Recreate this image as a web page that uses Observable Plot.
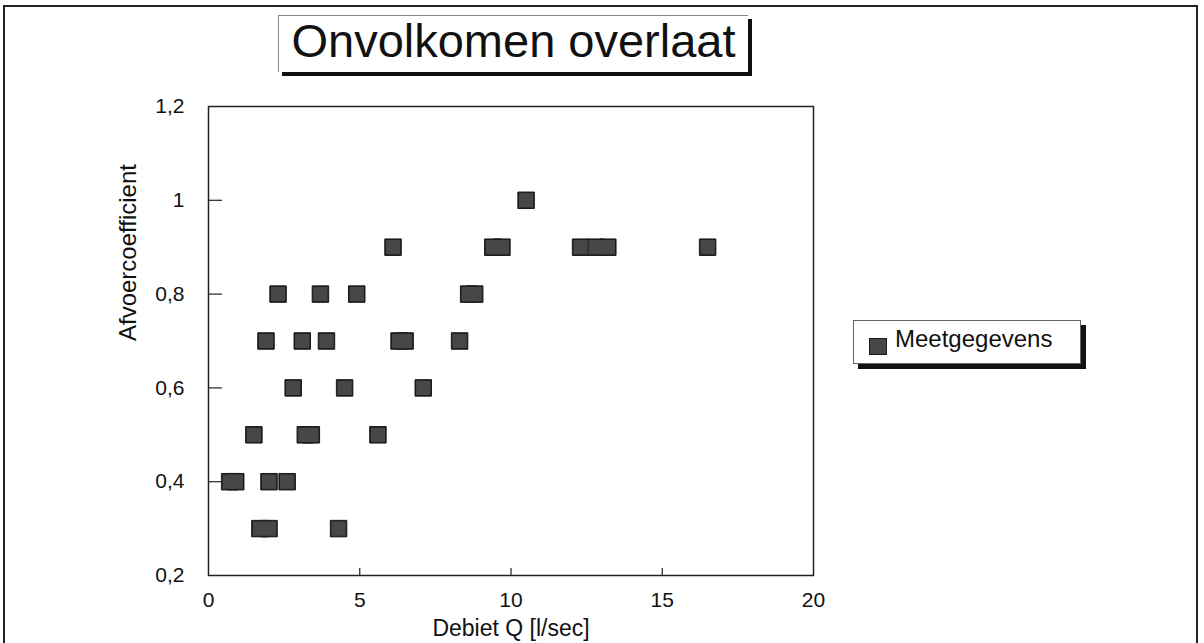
<!DOCTYPE html>
<html>
<head>
<meta charset="utf-8">
<script src="https://cdn.jsdelivr.net/npm/d3@7"></script>
<script src="https://cdn.jsdelivr.net/npm/@observablehq/plot@0.6"></script>
<style>
  html, body { margin: 0; padding: 0; background: #fff; }
  #wrap { position: relative; width: 1204px; height: 643px; overflow: hidden; font-family: "Liberation Sans", Arial, sans-serif; }
  #outer { position: absolute; left: 3px; top: 5px; width: 1195px; height: 660px; border: 2px solid #222; box-sizing: border-box; }
  #title { position: absolute; left: 278px; top: 15px; width: 470px; height: 57px; background: #fff;
           border-top: 1px solid #888; border-left: 1px solid #888; box-shadow: 4px 4px 0 #111;
           font-size: 47px; line-height: 50px; text-align: center; color: #111; box-sizing: border-box; }
  #legend { position: absolute; left: 853px; top: 320px; width: 228px; height: 44px; background: #fff;
            border: 1px solid #666; box-shadow: 5px 5px 0 #111; box-sizing: border-box;
            font-size: 24px; color: #111; }
  #legend .sw { position: absolute; left: 15px; top: 17px; width: 16px; height: 15px; background: #464646; border: 1px solid #1a1a1a; }
  #legend .lb { position: absolute; left: 41px; top: 4px; line-height: 28px; }
  #chart { position: absolute; left: 0; top: 0; }
</style>
</head>
<body>
<div id="wrap">
  <div id="outer"></div>
  <div id="chart"></div>
  <div id="title">Onvolkomen overlaat</div>
  <div id="legend"><div class="sw"></div><div class="lb">Meetgegevens</div></div>
</div>
<script>
const titleText = "Onvolkomen overlaat";
const seriesName = "Meetgegevens";
const xLabel = "Debiet Q [l/sec]";
const yLabel = "Afvoercoefficient";
const debiet = [10.5, 6.1, 9.4, 9.7, 12.3, 12.8, 13.2, 16.5, 2.3, 3.7, 4.9, 8.6, 8.8, 1.9, 3.1, 3.9, 6.3, 6.5, 8.3, 2.8, 4.5, 7.1, 1.5, 3.2, 3.4, 5.6, 0.7, 0.9, 2.0, 2.6, 1.7, 2.0, 4.3];
const coeff  = [1.0, 0.9, 0.9, 0.9, 0.9, 0.9, 0.9, 0.9, 0.8, 0.8, 0.8, 0.8, 0.8, 0.7, 0.7, 0.7, 0.7, 0.7, 0.7, 0.6, 0.6, 0.6, 0.5, 0.5, 0.5, 0.5, 0.4, 0.4, 0.4, 0.4, 0.3, 0.3, 0.3];
const xTicks = [0, 5, 10, 15, 20];
const yTicks = [0.2, 0.4, 0.6, 0.8, 1.0, 1.2];

const data = debiet.map((q, i) => ({q, c: coeff[i]}));

const W = 1204, H = 643, mL = 208, mR = 391, mT = 106, mB = 68;
const plotW = W - mL - mR, plotH = H - mT - mB;
const fmt = d => String(+d.toFixed(1)).replace(".", ",");

const chart = Plot.plot({
  width: W, height: H,
  marginLeft: mL, marginRight: mR, marginTop: mT, marginBottom: mB,
  style: {fontFamily: '"Liberation Sans", Arial, sans-serif', color: "#111", background: "transparent"},
  x: {domain: [0, 20]},
  y: {domain: [0.2, 1.2]},
  marks: [
    Plot.axisX({ticks: xTicks, tickSize: 0, tickPadding: 17, fontSize: 21, tickFormat: d => String(d), label: null}),
    Plot.axisY({ticks: yTicks, tickSize: 0, tickPadding: 24, fontSize: 21, tickFormat: fmt, label: null}),
    Plot.tickY(yTicks.slice(1, -1), {y: d => d, insetRight: plotW - 14, stroke: "#222", strokeWidth: 1.2}),
    Plot.tickX(xTicks.slice(1, -1), {x: d => d, insetTop: plotH - 7, stroke: "#222", strokeWidth: 1.2}),
    Plot.frame({stroke: "#222", strokeWidth: 1.5}),
    Plot.dot(data, {x: "q", y: "c", symbol: "square", r: 9.3, fill: "#1a1a1a", stroke: "#1a1a1a", strokeWidth: 1}),
    Plot.dot(data, {x: "q", y: "c", symbol: "square", r: 8.1, fill: "#474747"}),
    Plot.text([yLabel], {frameAnchor: "left", dx: -80, rotate: -90, text: d => d, fontSize: 24, fill: "#111"}),
    Plot.text([xLabel], {frameAnchor: "bottom", dy: 60, text: d => d, fontSize: 23, fill: "#111"})
  ]
});
document.getElementById("chart").appendChild(chart);
document.getElementById("title").textContent = titleText;
document.querySelector("#legend .lb").textContent = seriesName;
</script>
</body>
</html>
